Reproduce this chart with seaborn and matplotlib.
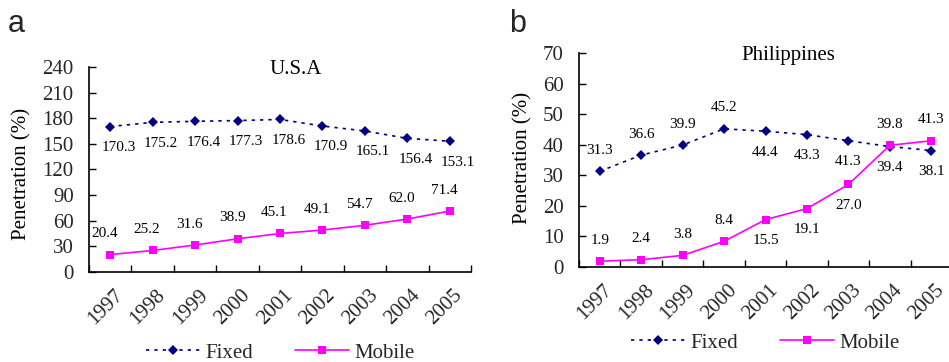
import matplotlib
matplotlib.use("Agg")
import matplotlib.pyplot as plt
from matplotlib.lines import Line2D
from matplotlib.transforms import ScaledTranslation
import seaborn as sns
import pandas as pd

years = [1997, 1998, 1999, 2000, 2001, 2002, 2003, 2004, 2005]

usa_fixed = [170.3, 175.2, 176.4, 177.3, 178.6, 170.9, 165.1, 156.4, 153.1]
usa_mobile = [20.4, 25.2, 31.6, 38.9, 45.1, 49.1, 54.7, 62.0, 71.4]
phl_fixed = [31.3, 36.6, 39.9, 45.2, 44.4, 43.3, 41.3, 39.4, 38.1]
phl_mobile = [1.9, 2.4, 3.8, 8.4, 15.5, 19.1, 27.0, 39.8, 41.3]

usa_yticks = [0, 30, 60, 90, 120, 150, 180, 210, 240]
phl_yticks = [0, 10, 20, 30, 40, 50, 60, 70]

series_names = ["Fixed", "Mobile"]
titles = ["U.S.A", "Philippines"]
panel_letters = ["a", "b"]
ylabel = "Penetration (%)"

# label placement (style): +1 above, -1 below
usa_fixed_pos = [-1] * 9
usa_mobile_pos = [1] * 9
phl_fixed_pos = [1, 1, 1, 1, -1, -1, -1, -1, -1]
phl_mobile_pos = [1, 1, 1, 1, -1, -1, -1, 1, 1]

colors = {"Fixed": "#000080", "Mobile": "#FF00FF"}
markers = {"Fixed": "D", "Mobile": "s"}
dashes = {"Fixed": (2, 3), "Mobile": ""}

sns.set_theme(style="ticks")
plt.rcParams["font.family"] = ["Liberation Serif", "DejaVu Serif"]

fig = plt.figure(figsize=(9.49, 3.62), dpi=100)
ax1 = fig.add_axes([89 / 949, 1 - 272 / 362, (471 - 89) / 949, (272 - 67) / 362])
ax2 = fig.add_axes([579 / 949, 1 - 267 / 362, (952 - 579) / 949, (267 - 53) / 362])

panels = [
    (ax1, usa_fixed, usa_mobile, usa_yticks, usa_fixed_pos, usa_mobile_pos,
     (6, -4), -0.150, 0.48, 0.54, -0.395),
    (ax2, phl_fixed, phl_mobile, phl_yticks, phl_fixed_pos, phl_mobile_pos,
     (0, 0), -0.125, 0.51, 0.56, -0.355),
]

for i, (ax, fixed, mobile, yt, fpos, mpos, dxs, ylx, yly, tx, legy) in enumerate(panels):
    df = pd.DataFrame({
        "Year": years * 2,
        "Penetration": fixed + mobile,
        "Series": ["Fixed"] * len(years) + ["Mobile"] * len(years),
    })
    sns.lineplot(data=df, x="Year", y="Penetration", hue="Series", style="Series",
                 palette=colors, markers=markers, dashes=dashes,
                 markersize=5.5, markeredgewidth=0, linewidth=1.2,
                 legend=False, ax=ax)

    ax.set_xlim(years[0] - 0.5, years[-1] + 0.5)
    ax.set_ylim(yt[0], yt[-1])
    ax.set_yticks(yt)
    ax.set_yticklabels([str(v) for v in yt])
    ax.set_xticks([y - 0.5 for y in years] + [years[-1] + 0.5])
    ax.set_xticklabels([])
    ax.set_xticks(years, minor=True)
    ax.set_xticklabels([str(y) for y in years], minor=True, rotation=45,
                       ha="right", va="center", rotation_mode="anchor")
    ax.tick_params(axis="x", which="major", direction="in", length=5, width=1, color="black")
    ax.tick_params(axis="x", which="minor", length=0, pad=15, labelsize=15)
    ax.tick_params(axis="y", direction="in", length=5, width=1, color="black",
                   pad=11, labelsize=15)
    off = ScaledTranslation(10 / 100, 0, fig.dpi_scale_trans)
    for lbl in ax.get_xticklabels(minor=True):
        lbl.set_transform(lbl.get_transform() + off)
    sns.despine(ax=ax)
    for s in ["left", "bottom"]:
        ax.spines[s].set_color("black")
        ax.spines[s].set_linewidth(1.2)
    ax.set_xlabel("")
    ax.set_ylabel(ylabel, fontsize=15, color="black")
    ax.yaxis.set_label_coords(ylx, yly)

    for vals, pos, dx in [(fixed, fpos, dxs[0]), (mobile, mpos, dxs[1])]:
        for x, v, p in zip(years, vals, pos):
            ax.annotate(f"{v:.1f}", (x, v), xytext=(dx, 15 * p), textcoords="offset points",
                        ha="center", va="center", fontsize=11, color="black")

    ax.text(tx, 0.99, titles[i], transform=ax.transAxes, ha="center", va="center",
            fontsize=15, color="black")

    handles = [Line2D([], [], color=colors[n], marker=markers[n], markersize=5.5,
                      markeredgewidth=0, linewidth=1.2,
                      linestyle=(0, (2, 3)) if n == "Fixed" else "-")
               for n in series_names]
    ax.legend(handles, series_names, loc="center", bbox_to_anchor=(0.5, legy),
              ncol=2, frameon=False, fontsize=15, handlelength=2.6,
              handletextpad=0.25, columnspacing=2.0, numpoints=1)

fig.text(8 / 949, 1 - 32 / 362, panel_letters[0], fontsize=22,
         family=["Liberation Sans", "DejaVu Sans"], va="baseline", ha="left")
fig.text(509 / 949, 1 - 32 / 362, panel_letters[1], fontsize=22,
         family=["Liberation Sans", "DejaVu Sans"], va="baseline", ha="left")

fig.savefig("out.png", dpi=100, facecolor="white")
